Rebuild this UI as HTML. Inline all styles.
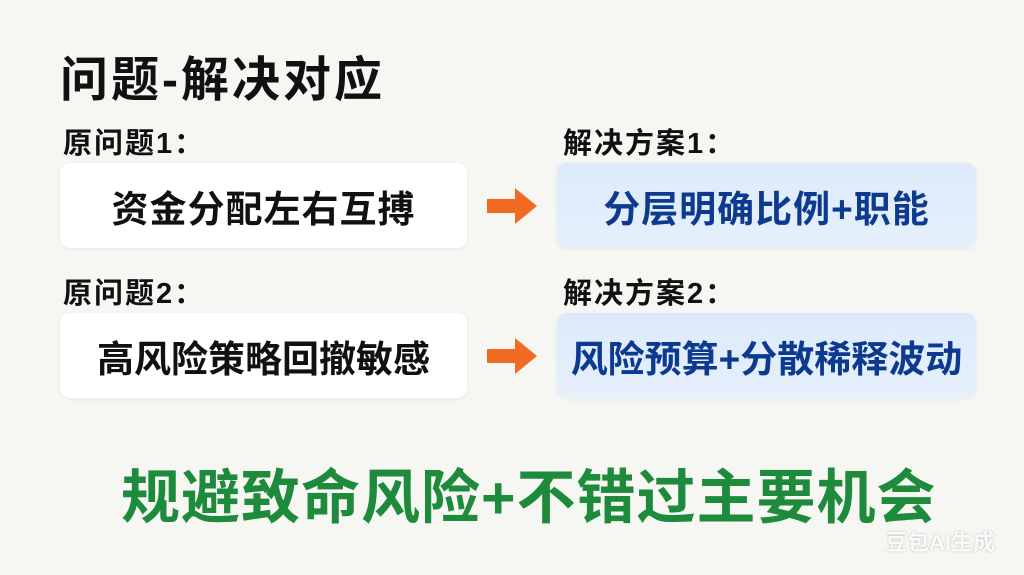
<!DOCTYPE html>
<html><head><meta charset="utf-8"><style>
body{margin:0;width:1024px;height:575px;background:#f6f6f3;font-family:"Liberation Sans","Noto Sans CJK SC",sans-serif;position:relative;overflow:hidden;font-weight:bold}
.a{position:absolute;white-space:nowrap}
.box{position:absolute;border-radius:10px;display:flex;align-items:center;justify-content:center;font-size:37px;white-space:nowrap}
.l{background:#fff;color:#111;box-shadow:0 1px 4px rgba(0,0,0,.06)}
.r{background:linear-gradient(180deg,#dbeafb,#e6f0fb);color:#0d3a8f;box-shadow:0 1px 4px rgba(0,0,0,.06)}
.lab{font-size:29px;color:#111;letter-spacing:2px}
</style></head><body>
<div class="a" style="left:60px;top:40px;font-size:48px;letter-spacing:3px;color:#111">问题-解决对应</div>
<div class="a lab" style="left:63px;top:120px">原问题1：</div>
<div class="a lab" style="left:563px;top:120px">解决方案1：</div>
<div class="box l" style="left:60px;top:163px;width:407px;height:85px;letter-spacing:1px">资金分配左右互搏</div>
<div class="box r" style="left:557px;top:163px;width:419px;height:85px;letter-spacing:1px">分层明确比例+职能</div>
<div class="a lab" style="left:63px;top:270px">原问题2：</div>
<div class="a lab" style="left:563px;top:270px">解决方案2：</div>
<div class="box l" style="left:60px;top:313px;width:407px;height:85px">高风险策略回撤敏感</div>
<div class="box r" style="left:557px;top:313px;width:419px;height:85px">风险预算+分散稀释波动</div>
<svg class="a" style="left:485px;top:185px" width="56" height="44"><polygon points="2,14 30,14 30,3 52,21 30,39 30,28 2,28" fill="#f26a21"/></svg>
<svg class="a" style="left:485px;top:335px" width="56" height="44"><polygon points="2,14 30,14 30,3 52,21 30,39 30,28 2,28" fill="#f26a21"/></svg>
<div class="a" style="left:121px;top:450px;font-size:59px;letter-spacing:1px;color:#1e8a3c">规避致命风险+不错过主要机会</div>
<div class="a" style="left:885px;top:525px;font-size:22px;color:rgba(255,255,255,.9);text-shadow:0 0 2px rgba(0,0,0,.25)">豆包AI生成</div>
</body></html>
